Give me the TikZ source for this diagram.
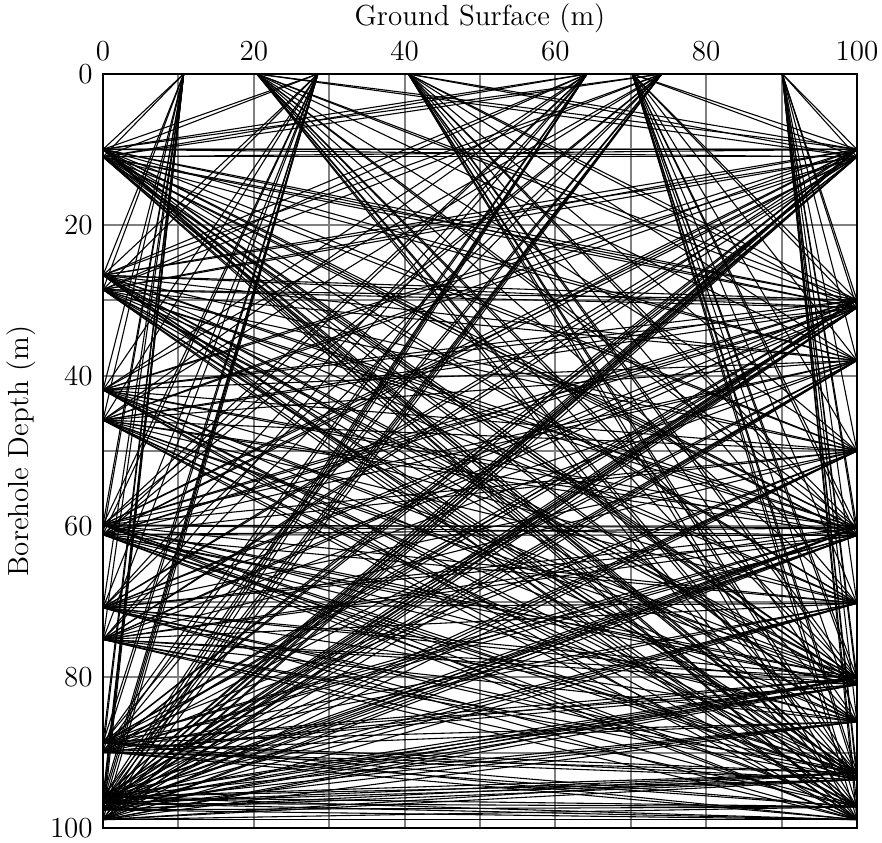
\documentclass[tikz,border=0pt]{standalone}
\begin{document}
\begin{tikzpicture}[x=3.115pt,y=-3.115pt,
  gridline/.style={gray, line width=0.8pt},
  ray/.style={black, line width=0.45pt},
  frameline/.style={black, line width=1.2pt},
  ticklab/.style={font=\fontsize{12}{14}\selectfont, inner sep=0pt},
  axlab/.style={font=\fontsize{12}{14}\selectfont, inner sep=0pt}]
\useasboundingbox (-13.66,-9.81) rectangle (103.32,101.99);
% grid
\foreach \g in {10,20,...,90} {
  \draw[gridline] (\g,0) -- (\g,100);
  \draw[gridline] (0,\g) -- (100,\g);
}
% stations
\foreach \n/\v in {1/10.7, 2/28.5, 3/64.2, 4/74.1} \coordinate (TL\n) at (\v,0);
\foreach \n/\v in {1/20.4, 2/40.5, 3/70.2, 4/90.1} \coordinate (TR\n) at (\v,0);
\foreach \n/\v in {1/10, 2/11, 3/26.7, 4/28.6, 5/41.9, 6/45.9, 7/59.8, 8/61.1, 9/70.8, 10/75.0, 11/88.7, 12/89.9, 13/95.9, 14/96.7, 15/97.6, 16/98.9}
  \coordinate (L\n) at (0,\v);
\foreach \n/\v in {1/10, 2/11, 3/30, 4/31, 5/38, 6/50, 7/60.2, 8/61.2, 9/70.2, 10/80.1, 11/81.0, 12/85.9, 13/92.7, 14/93.6, 15/97.2, 16/98.9}
  \coordinate (R\n) at (100,\v);
% rays
\foreach \s in {1,...,4} {
  \foreach \r in {1,...,16} {
    \draw[ray] (TL\s) -- (L\r);
    \draw[ray] (TR\s) -- (R\r);
  }
}
\foreach \a in {1,...,16} {
  \foreach \b in {1,...,16} {
    \draw[ray] (L\a) -- (R\b);
  }
}
% frame
\draw[frameline] (0,0) rectangle (100,100);
% tick labels
\foreach \t in {0,20,...,100} {
  \node[ticklab, anchor=base] (xt\t) at (\t,-1.75) {\t};
  \node[ticklab, anchor=east] (yt\t) at (-1.3,\t) {\t};
}
\node[axlab] (xlabel) at (50,-7.4) {Ground Surface (m)};
\node[axlab, rotate=90] (ylabel) at (-10.9,50) {Borehole Depth (m)};
\end{tikzpicture}
\end{document}
